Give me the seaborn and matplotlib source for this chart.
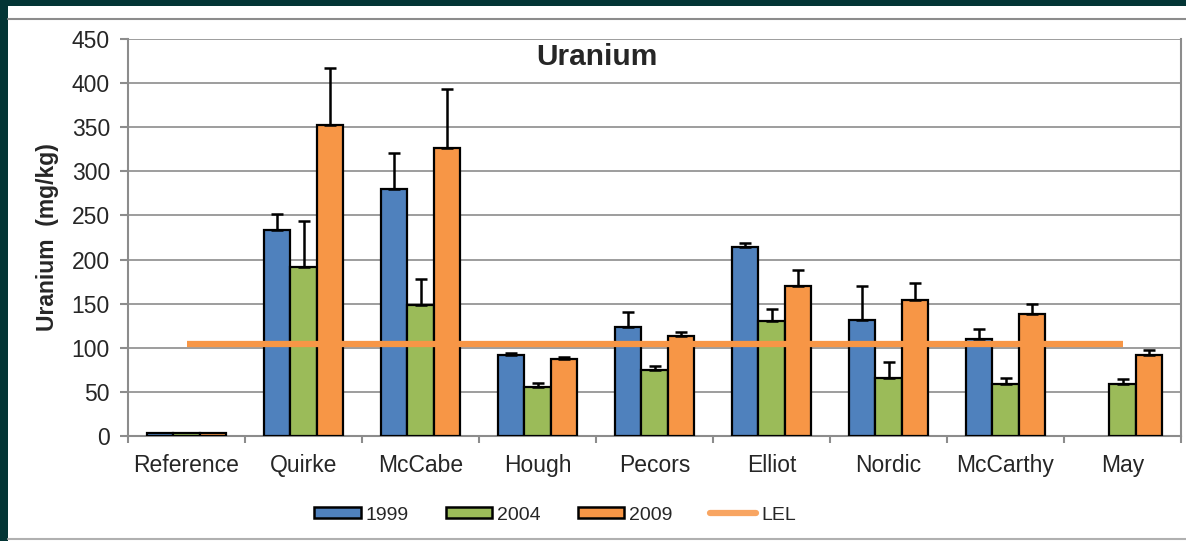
import matplotlib
matplotlib.use("Agg")
import matplotlib.pyplot as plt
from matplotlib.lines import Line2D
from matplotlib.patches import Patch, Rectangle
import numpy as np
import pandas as pd
import seaborn as sns

sites = ["Reference", "Quirke", "McCabe", "Hough", "Pecors",
         "Elliot", "Nordic", "McCarthy", "May"]
years = ["1999", "2004", "2009"]
u1999 = [3, 234, 280, 92, 124, 214, 131, 110, np.nan]
u2004 = [3, 191, 148, 56, 75, 130, 66, 59, 59]
u2009 = [3, 352, 326, 87, 113, 170, 154, 138, 92]
err1999 = [0, 18, 41, 2, 17, 5, 39, 11, 0]
err2004 = [0, 53, 30, 4, 4, 14, 18, 7, 6]
err2009 = [0, 65, 67, 2, 5, 18, 19, 12, 6]
lel = 104

colors = ["#4F81BD", "#9BBB59", "#F79646"]
lel_color = "#F79646"
grey = "#8c8c8c"

df = pd.DataFrame({
    "site": sites * 3,
    "year": [y for y in years for _ in sites],
    "uranium": u1999 + u2004 + u2009,
    "err": err1999 + err2004 + err2009,
})

sns.set_style("white")
plt.rcParams["font.family"] = ["Liberation Sans", "DejaVu Sans"]

fig = plt.figure(figsize=(11.86, 5.41), dpi=100, facecolor="#033535")
fig.add_artist(Rectangle((8 / 1186, 0), 1, 1 - 6 / 541, transform=fig.transFigure,
                         facecolor="white", edgecolor="none", zorder=-10))
fig.add_artist(Line2D([8 / 1186, 1], [1 - 19 / 541] * 2, transform=fig.transFigure,
                      color=grey, lw=1.5))
fig.add_artist(Line2D([8 / 1186, 1], [1 - 539 / 541] * 2, transform=fig.transFigure,
                      color="#b0b0b0", lw=1.5))

ax = fig.add_axes([128 / 1186, 1 - 436 / 541, 1053 / 1186, 397 / 541])
ax.set_facecolor("none")

sns.barplot(data=df, x="site", y="uranium", hue="year", order=sites,
            hue_order=years, palette=colors, saturation=1, width=0.67,
            edgecolor="black", linewidth=1.6, errorbar=None, legend=False,
            ax=ax, zorder=3)

# upward error bars
for yr, cont in zip(years, ax.containers):
    sub = df[df["year"] == yr].set_index("site")
    for bar in cont:
        h = bar.get_height()
        if not np.isfinite(h):
            continue
        xc = bar.get_x() + bar.get_width() / 2
        site = sites[int(round(xc))]
        e = sub.loc[site, "err"]
        if e > 0:
            ax.errorbar(xc, h, yerr=[[0], [e]], fmt="none", ecolor="black",
                        elinewidth=1.8, capsize=4.5, capthick=1.8, zorder=4)

ax.plot(sites, [lel] * len(sites), color=lel_color, lw=4.5, zorder=5,
        solid_capstyle="butt")

ax.set_ylim(0, 450)
ax.set_xlim(-0.5, len(sites) - 0.5)
ax.set_yticks(range(0, 451, 50))
ax.yaxis.grid(True, color=grey, lw=1.2, zorder=0)
ax.set_axisbelow(True)
ax.spines["top"].set_visible(False)
for s in ["left", "bottom", "right"]:
    ax.spines[s].set_color(grey)
    ax.spines[s].set_linewidth(1.5)

ax.set_xticks(np.arange(-0.5, len(sites)), minor=True)
ax.tick_params(axis="x", which="major", length=0, pad=13, labelsize=16.5)
ax.tick_params(axis="x", which="minor", length=5, width=1.5, color=grey,
               bottom=True, direction="out")
ax.tick_params(axis="y", length=6, width=1.5, color=grey, left=True, pad=7,
               labelsize=16.5)
ax.set_xlabel("")
ax.set_ylabel("Uranium  (mg/kg)", fontsize=16.5, fontweight="bold", labelpad=9)

ax.text(0.445, 0.955, "Uranium", transform=ax.transAxes, ha="center", va="center",
        fontsize=21.5, fontweight="bold")

handles = [Patch(facecolor=c, edgecolor="black", linewidth=1.8) for c in colors]
handles.append(Line2D([0], [0], color=lel_color, lw=4.5, alpha=0.85))
fig.legend(handles, years + ["LEL"], loc="center", bbox_to_anchor=(0.468, 0.048),
           ncol=4, frameon=False, fontsize=14, handlelength=2.4,
           handleheight=0.5, handletextpad=0.25, columnspacing=1.9)

fig.savefig("out.png", dpi=100, facecolor=fig.get_facecolor())
